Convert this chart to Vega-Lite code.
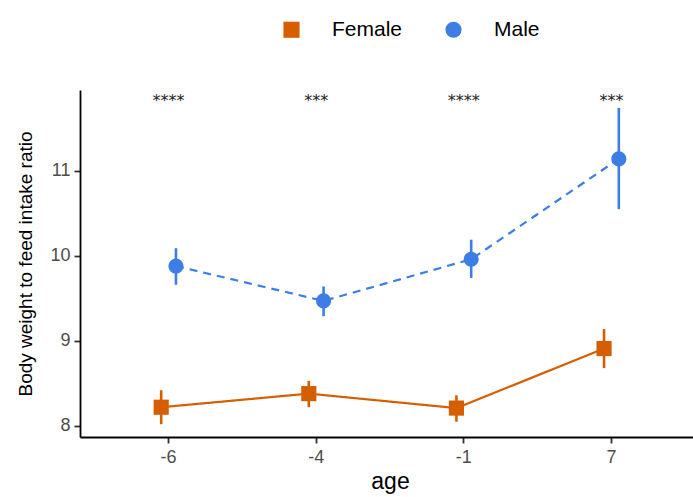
{
  "$schema": "https://vega.github.io/schema/vega-lite/v6.json",
  "width": 620,
  "height": 347,
  "autosize": {"type": "none"},
  "padding": {"left": 80, "top": 90, "right": 0, "bottom": 60},
  "config": {
    "view": {"stroke": null},
    "font": "Liberation Sans",
    "axis": {"grid": false, "domainColor": "black", "domainWidth": 1.8, "tickColor": "#333", "tickWidth": 1.8, "tickSize": 6, "labelColor": "#4d4d4d", "labelFontSize": 18, "titleFontWeight": "normal", "titleColor": "black"}
  },
  "datasets": {
    "pts": [
      {"age": "-6", "sex": "Female", "mean": 8.22, "lo": 8.02, "hi": 8.42},
      {"age": "-4", "sex": "Female", "mean": 8.38, "lo": 8.22, "hi": 8.53},
      {"age": "-1", "sex": "Female", "mean": 8.21, "lo": 8.05, "hi": 8.36},
      {"age": "7", "sex": "Female", "mean": 8.91, "lo": 8.68, "hi": 9.14},
      {"age": "-6", "sex": "Male", "mean": 9.88, "lo": 9.66, "hi": 10.09},
      {"age": "-4", "sex": "Male", "mean": 9.47, "lo": 9.29, "hi": 9.64},
      {"age": "-1", "sex": "Male", "mean": 9.96, "lo": 9.74, "hi": 10.19},
      {"age": "7", "sex": "Male", "mean": 11.14, "lo": 10.55, "hi": 11.74}
    ],
    "stars": [
      {"age": "-6", "label": "****", "y": 11.82},
      {"age": "-4", "label": "***", "y": 11.82},
      {"age": "-1", "label": "****", "y": 11.82},
      {"age": "7", "label": "***", "y": 11.82}
    ]
  },
  "encoding": {
    "x": {
      "field": "age", "type": "ordinal", "sort": ["-6", "-4", "-1", "7"],
      "scale": {"paddingInner": 0.8, "paddingOuter": 0.5},
      "axis": {"title": "age", "titleFontSize": 23, "labelFontSize": 18, "labelAngle": 0, "labelPadding": 5, "titlePadding": 4}
    }
  },
  "layer": [
    {
      "data": {"name": "pts"},
      "mark": {"type": "line", "strokeWidth": 2.2},
      "encoding": {
        "xOffset": {"field": "sex", "type": "nominal"},
        "y": {"field": "mean", "type": "quantitative", "scale": {"domain": [7.87, 11.95], "nice": false, "zero": false},
          "axis": {"values": [8, 9, 10, 11], "format": "d", "labelFontSize": 18, "labelPadding": 4, "title": "Body weight to feed intake ratio", "titleFontSize": 19, "titlePadding": 14}},
        "color": {"field": "sex", "type": "nominal", "scale": {"domain": ["Female", "Male"], "range": ["#d55e00", "#3d7ee6"]}},
        "strokeDash": {"field": "sex", "type": "nominal", "scale": {"domain": ["Female", "Male"], "range": [[1, 0], [8, 6]]}, "legend": null}
      }
    },
    {
      "data": {"name": "pts"},
      "mark": {"type": "rule", "strokeWidth": 2.6},
      "encoding": {
        "xOffset": {"field": "sex", "type": "nominal"},
        "y": {"field": "lo", "type": "quantitative"},
        "y2": {"field": "hi"},
        "color": {"field": "sex", "type": "nominal"}
      }
    },
    {
      "data": {"name": "pts"},
      "mark": {"type": "point", "filled": true, "opacity": 1, "size": 230},
      "encoding": {
        "xOffset": {"field": "sex", "type": "nominal"},
        "y": {"field": "mean", "type": "quantitative"},
        "color": {"field": "sex", "type": "nominal", "title": null,
          "legend": {"orient": "none", "legendX": 201, "legendY": -71, "direction": "horizontal", "labelFontSize": 21, "labelColor": "black", "symbolSize": 260, "symbolOpacity": 1, "symbolStrokeWidth": 0, "columnPadding": 40, "labelOffset": 30, "title": null}},
        "shape": {"field": "sex", "type": "nominal", "scale": {"domain": ["Female", "Male"], "range": ["square", "circle"]}, "title": null}
      }
    },
    {
      "data": {"name": "stars"},
      "mark": {"type": "text", "fontSize": 16, "font": "DejaVu Sans", "color": "#222"},
      "encoding": {
        "y": {"field": "y", "type": "quantitative"},
        "text": {"field": "label"}
      }
    }
  ]
}
